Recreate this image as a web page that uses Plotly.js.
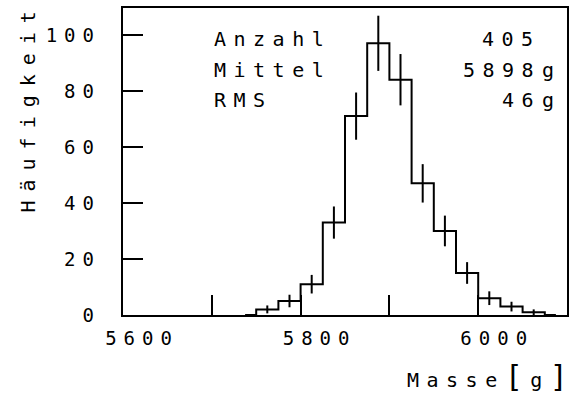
<!DOCTYPE html>
<html>
<head>
<meta charset="utf-8">
<script src="https://cdn.plot.ly/plotly-3.0.1.min.js"></script>
<style>
  html, body { margin: 0; padding: 0; background: #fff; }
</style>
</head>
<body>
<div id="chart" style="width:577px;height:399px;"></div>
<script>
// Histogram data: lower bin edges (g), bin width 25 g, counts
const binLow = [5750, 5775, 5800, 5825, 5850, 5875, 5900, 5925, 5950, 5975, 6000, 6025, 6050];
const binWidth = 25;
const counts = [2, 5, 11, 33, 71, 97, 84, 47, 30, 15, 6, 3, 1];

// Axis ticks
const xTickVals = [5600, 5700, 5800, 5900, 6000, 6100];
const xTickText = ["5600", "", "5800", "", "6000", ""];
const yTickVals = [0, 20, 40, 60, 80, 100];
const yTickText = ["0", "20", "40", "60", "80", "100"];

// Statistics box
const statNames = ["Anzahl", "Mittel", "RMS"];
const statValues = ["405", "5898", "46"];
const statUnits = ["", "g", "g"];

// Titles
const xTitle = ["Masse", "[", "g", "]"];
const yTitle = "Häufigkeit";

const centers = binLow.map(v => v + binWidth / 2);
const stepX = [binLow[0] - binWidth / 2].concat(centers, [binLow[binLow.length - 1] + binWidth * 1.5]);
const stepY = [0].concat(counts, [0]);
const errs = counts.map(c => Math.sqrt(c));

const FONT = "DejaVu Sans Mono, monospace";
const sp = (t, s, extra) => t ? `<span style="letter-spacing:${s}px${extra ? ';' + extra : ''}">${t}</span>` : "";

// layout geometry (pixels)
const W = 577, H = 399, ML = 101, MR = 10, MT = 8, MB = 84;
const PW = W - ML - MR, PH = H - MT - MB;
const px = x => (x - ML) / PW;
const py = y => (H - MB - y) / PH;

const traces = [
  {
    type: "scatter", mode: "lines", x: stepX, y: stepY,
    line: { shape: "hvh", color: "#000", width: 2 },
    hoverinfo: "skip", showlegend: false
  },
  {
    type: "scatter", mode: "markers", x: centers, y: counts,
    marker: { size: 1, color: "rgba(0,0,0,0)" },
    error_y: { type: "data", array: errs, visible: true, color: "#000", thickness: 2, width: 0 },
    showlegend: false
  },
  {
    // carrier for the offset tick-label axis (invisible)
    type: "scatter", mode: "markers", x: centers, y: counts, yaxis: "y2",
    marker: { size: 1, color: "rgba(0,0,0,0)" }, hoverinfo: "skip", showlegend: false
  }
];

const AS = 7.5;
const rowY = [39, 70, 100];
const afont = { family: FONT, size: 20, color: "#000" };
const annotations = [];
statNames.forEach((n, i) => {
  annotations.push({ xref: "paper", yref: "paper", x: px(213), y: py(rowY[i]), xanchor: "left", yanchor: "middle",
    text: sp(n, AS), showarrow: false, font: afont, borderpad: 0 });
  annotations.push({ xref: "paper", yref: "paper", x: px(541.5), y: py(rowY[i]), xanchor: "right", yanchor: "middle",
    text: sp(statValues[i], AS), showarrow: false, font: afont, borderpad: 0 });
  if (statUnits[i]) {
    annotations.push({ xref: "paper", yref: "paper", x: px(541), y: py(rowY[i]), xanchor: "left", yanchor: "middle",
      text: sp(statUnits[i], AS), showarrow: false, font: afont, borderpad: 0 });
  }
});
annotations.push({ xref: "paper", yref: "paper", x: px(576), y: py(376), xanchor: "right", yanchor: "middle",
  text: sp(xTitle[0], AS) + sp(xTitle[1], AS, "font-size:30px") + sp(xTitle[2], AS) + sp(xTitle[3], AS, "font-size:30px"),
  showarrow: false, font: afont, borderpad: 0 });
annotations.push({ xref: "paper", yref: "paper", x: px(27.5), y: py(2), xanchor: "center", yanchor: "top",
  textangle: -90, text: sp(yTitle, 9), showarrow: false, font: afont, borderpad: 0 });

const TS = 7;
const layout = {
  width: W, height: H,
  margin: { l: ML, r: MR, t: MT, b: MB },
  paper_bgcolor: "#fff", plot_bgcolor: "#fff",
  showlegend: false,
  font: { family: FONT, size: 18, color: "#000" },
  xaxis: {
    domain: [px(123), 1],
    range: [5600, 6100], tickmode: "array", tickvals: xTickVals, ticktext: xTickText.map(t => sp(t, TS)),
    ticks: "inside", ticklen: 20, tickwidth: 2, tickcolor: "#000",
    showline: true, linewidth: 2, linecolor: "#000", mirror: true,
    showgrid: false, zeroline: false, ticklabelshift: 19, ticklabelstandoff: 5,
    tickfont: { family: FONT, size: 19, color: "#000" }
  },
  yaxis: {
    range: [0, 109.6], tickmode: "array", tickvals: yTickVals,
    ticks: "inside", ticklen: 20, tickwidth: 2, tickcolor: "#000", showticklabels: false,
    showline: true, linewidth: 2, linecolor: "#000", mirror: true,
    showgrid: false, zeroline: false
  },
  yaxis2: {
    overlaying: "y", anchor: "free", position: 0, side: "left",
    range: [0, 109.6], tickmode: "array", tickvals: yTickVals, ticktext: yTickText.map(t => sp(t, TS)),
    ticks: "", showline: false, showgrid: false, zeroline: false,
    tickfont: { family: FONT, size: 19, color: "#000" }
  },
  annotations: annotations
};

Plotly.newPlot("chart", traces, layout, { displayModeBar: false, staticPlot: true });
</script>
</body>
</html>
